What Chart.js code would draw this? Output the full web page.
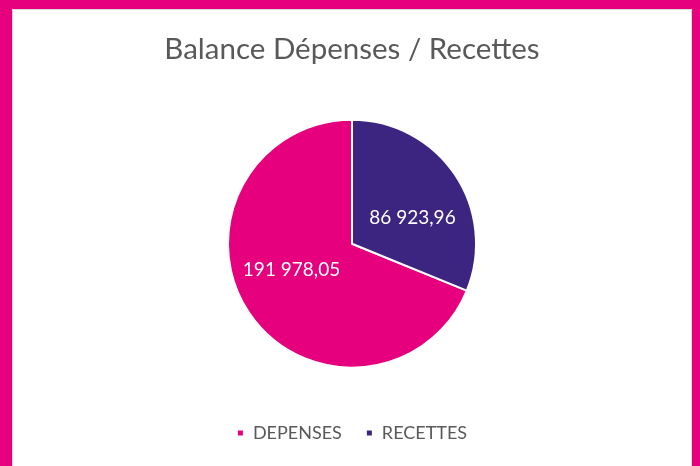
<!DOCTYPE html>
<html>
<head>
<meta charset="utf-8">
<script src="https://cdn.jsdelivr.net/npm/chart.js@4"></script>
<style>
  html, body { margin: 0; padding: 0; background: #fff; }
  #frame {
    position: absolute; left: 0; top: 0;
    width: 680px; height: 457px;
    border-left: 12px solid #E6007E;
    border-top: 9px solid #E6007E;
    border-right: 8px solid #E6007E;
    box-shadow: inset 1px 1px 0 #d9d9d9, inset -1px 0 0 #d9d9d9;
  }
  #wrap { position: absolute; left: 0; top: 0; width: 680px; height: 457px; }
</style>
</head>
<body>
<div id="frame"><div id="wrap"><canvas id="pieChart"></canvas></div></div>
<script>
var categories = ["DEPENSES", "RECETTES"];
var amounts = [191978.05, 86923.96];
var sliceColors = ["#E6007E", "#3B2581"];

// 191978.05 -> "191 978,05"
function frNumber(v) {
  var parts = v.toFixed(2).split(".");
  var ent = parts[0].replace(/\B(?=(\d{3})+(?!\d))/g, " ");
  return ent + "," + parts[1];
}

// small stand-in for datalabels
var sliceLabels = {
  id: "sliceLabels",
  afterDatasetsDraw: function(chart) {
    var ctx = chart.ctx;
    var meta = chart.getDatasetMeta(0);
    ctx.save();
    ctx.fillStyle = "#ffffff";
    ctx.font = "19px Lato, 'Open Sans', sans-serif";
    ctx.textAlign = "center";
    ctx.textBaseline = "middle";
    meta.data.forEach(function(arc, i) {
      var p = arc.getProps(["startAngle", "endAngle", "outerRadius", "x", "y"], true);
      var mid = (p.startAngle + p.endAngle) / 2 + 0.19;
      var r = p.outerRadius * 0.53;
      ctx.fillText(frNumber(amounts[i]), p.x + Math.cos(mid) * r, p.y + Math.sin(mid) * r);
    });
    ctx.restore();
  }
};

var ctxP = document.getElementById("pieChart").getContext("2d");
var myPieChart = new Chart(ctxP, {
  type: "pie",
  data: {
    labels: categories,
    datasets: [{
      data: amounts,
      backgroundColor: sliceColors,
      borderColor: "#ffffff",
      borderWidth: 2,
      radius: 124
    }]
  },
  options: {
    responsive: true,
    maintainAspectRatio: false,
    animation: false,
    rotation: 112.2,
    layout: { padding: { bottom: 14 } },
    plugins: {
      title: {
        display: true,
        text: "Balance Dépenses / Recettes",
        color: "#595959",
        font: { family: "Lato, 'Open Sans', sans-serif", size: 29.5, weight: "normal" },
        padding: { top: 23, bottom: 20 }
      },
      legend: {
        position: "bottom",
        labels: {
          color: "#595959",
          font: { family: "Lato, 'Open Sans', sans-serif", size: 18 },
          usePointStyle: true,
          pointStyle: "rect",
          boxWidth: 7,
          boxHeight: 7,
          padding: 24
        }
      },
      tooltip: { enabled: false }
    }
  },
  plugins: [sliceLabels]
});
</script>
</body>
</html>
